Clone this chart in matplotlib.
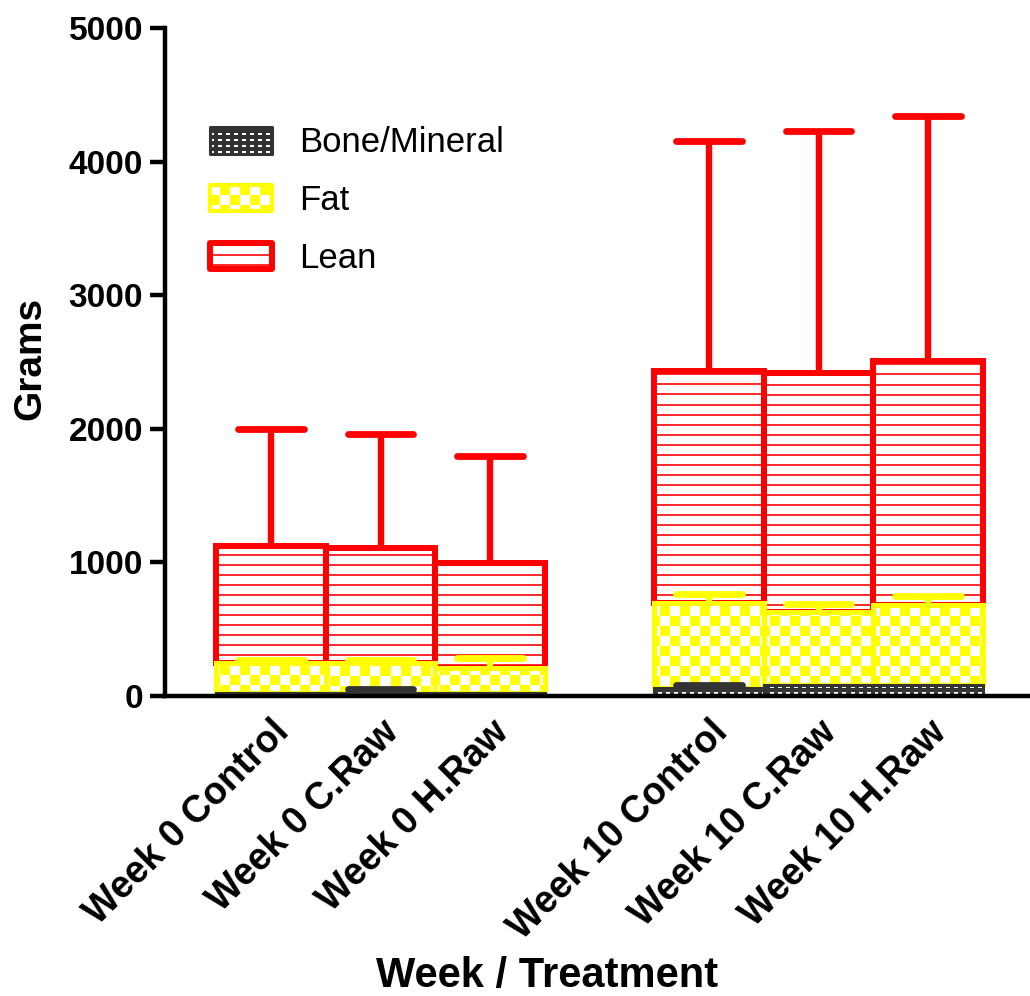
import numpy as np
import matplotlib
matplotlib.use("Agg")
import matplotlib.pyplot as plt
from matplotlib.patches import Rectangle

# ---- data -------------------------------------------------------------
groups = ["Week 0 Control", "Week 0 C.Raw", "Week 0 H.Raw",
          "Week 10 Control", "Week 10 C.Raw", "Week 10 H.Raw"]
week_cluster = [0, 0, 0, 1, 1, 1]

bone = [20, 20, 20, 60, 85, 85]
bone_sd = [0, 30, 0, 25, 0, 0]
fat = [226, 230, 189, 635, 546, 595]
fat_sd = [23, 20, 75, 67, 60, 70]
lean = [875, 856, 785, 1741, 1783, 1831]
lean_sd = [879, 857, 806, 1719, 1816, 1831]

series_names = ["Bone/Mineral", "Fat", "Lean"]
y_ticks = [0, 1000, 2000, 3000, 4000, 5000]

# ---- style ------------------------------------------------------------
RED = "#ff0000"
RED_LINE = (1.0, 0.18, 0.18)
YELLOW = "#ffff00"
DARK = "#333333"

plt.rcParams["font.family"] = ["Liberation Sans", "DejaVu Sans"]

W, H = 1030, 996
fig = plt.figure(figsize=(W / 100, H / 100), dpi=100)
ax = fig.add_axes([165 / W, (H - 696) / H, (W - 165) / W, (696 - 28) / H])
ax.set_xlim(-0.968, 6.93)
ax.set_ylim(0, 5000)


def pattern_image(kind, X, Y, ref=0):
    img = np.ones(X.shape + (3,))
    if kind == "lean":
        img[((Y - ref) % 10) < 2] = RED_LINE
    elif kind == "fat":
        img[((X // 10 + Y // 10) % 2) == 0] = matplotlib.colors.to_rgb(YELLOW)
    elif kind == "bone":
        img[:] = matplotlib.colors.to_rgb(DARK)
        m = ((X % 8) >= 2) & ((X % 8) < 6) & ((Y % 6) >= 2) & ((Y % 6) < 4)
        img[m] = 1.0
    return img


def fill_pattern(kind, x0, x1, y0, y1, clip, z, ref=0):
    dx0, dy0 = ax.transData.transform((x0, y0))
    dx1, dy1 = ax.transData.transform((x1, y1))
    ix0, ix1 = int(np.floor(dx0)), int(np.ceil(dx1))
    iy0, iy1 = int(np.floor(dy0)), int(np.ceil(dy1))
    if ix1 <= ix0 or iy1 <= iy0:
        return
    cols = np.arange(ix0, ix1)
    rows = np.arange(iy1 - 1, iy0 - 1, -1)
    X, Y = np.meshgrid(cols, rows)
    img = pattern_image(kind, X, Y, ref)
    ex0, ey0 = ax.transData.inverted().transform((ix0, iy0))
    ex1, ey1 = ax.transData.inverted().transform((ix1, iy1))
    im = ax.imshow(img, extent=(ex0, ex1, ey0, ey1), origin="upper",
                   interpolation="nearest", aspect="auto", zorder=z)
    im.set_clip_path(clip)


x = np.arange(len(groups)) + np.array(week_cluster)
bone_a, fat_a, lean_a = np.array(bone), np.array(fat), np.array(lean)

layers = [
    # kind, values, sd, bottom, edge colour, edge lw, zorder
    ("lean", lean_a, np.array(lean_sd), bone_a + fat_a, RED, 4.3, 2),
    ("fat", fat_a, np.array(fat_sd), bone_a, YELLOW, 3.6, 3),
    ("bone", bone_a, np.array(bone_sd), np.zeros(len(x)), DARK, 2.2, 4),
]

for kind, vals, sd, bot, col, lw, z in layers:
    bars = ax.bar(x, vals, width=1.0, bottom=bot, facecolor="white",
                  edgecolor="none", zorder=z)
    for rect in bars:
        fill_pattern(kind, rect.get_x(), rect.get_x() + rect.get_width(),
                     rect.get_y(), rect.get_y() + rect.get_height(), rect, z + 0.1)
    ax.bar(x, vals, width=1.0, bottom=bot, facecolor="none",
           edgecolor=col, linewidth=lw, zorder=z + 0.2)
    tops = bot + vals
    has_err = sd > 0
    ax.vlines(x[has_err], tops[has_err], (tops + sd)[has_err], colors=col,
              lw=4.6, zorder=z + 0.3)
    caps = ax.hlines((tops + sd)[has_err], x[has_err] - 0.3, x[has_err] + 0.3,
                     colors=col, lw=4.9, zorder=z + 0.3)
    caps.set_capstyle("round")

# ---- axes -------------------------------------------------------------
for s in ("top", "right"):
    ax.spines[s].set_visible(False)
for s in ("left", "bottom"):
    ax.spines[s].set_linewidth(3.2)
    ax.spines[s].set_zorder(10)

ax.set_yticks(y_ticks)
ax.set_yticklabels([str(v) for v in y_ticks], fontsize=24, fontweight="bold")
ax.tick_params(axis="y", length=10.8, width=3.2, pad=5, direction="out")

ax.set_xticks(x)
ax.set_xticklabels(groups, rotation=45, ha="right", rotation_mode="anchor",
                   fontsize=27, fontweight="bold")
ax.tick_params(axis="x", length=0, pad=13)

fig.text(30 / W, 1 - 358 / H, "Grams", rotation=90, ha="center", va="center",
         fontsize=28, fontweight="bold")
fig.text(547 / W, 1 - 987 / H, "Week / Treatment", ha="center", va="baseline",
         fontsize=30, fontweight="bold")

# ---- legend -----------------------------------------------------------
def px_to_data(px, py):
    return ax.transData.inverted().transform((px, H - py))


legend_rows = [
    ("bone", DARK, 2.2, 140.5),
    ("fat", YELLOW, 3.0, 198.5),
    ("lean", RED, 4.3, 256.5),
]
for (kind, col, lw, cy), name in zip(legend_rows, series_names):
    x0, y0 = px_to_data(210, cy + 13)
    x1, y1 = px_to_data(272, cy - 13)
    base = Rectangle((x0, y0), x1 - x0, y1 - y0, facecolor="white",
                     edgecolor="none", zorder=6)
    ax.add_patch(base)
    fill_pattern(kind, x0, x1, y0, y1, base, 6.1, ref=int(round(H - cy)) - 1)
    ax.add_patch(Rectangle((x0, y0), x1 - x0, y1 - y0, facecolor="none",
                           edgecolor=col, lw=lw, joinstyle="round", zorder=6.2))
    fig.text(299 / W, 1 - (cy + 12) / H, name, ha="left", va="baseline",
             fontsize=25, color="black")

fig.savefig("out.png", dpi=100)
